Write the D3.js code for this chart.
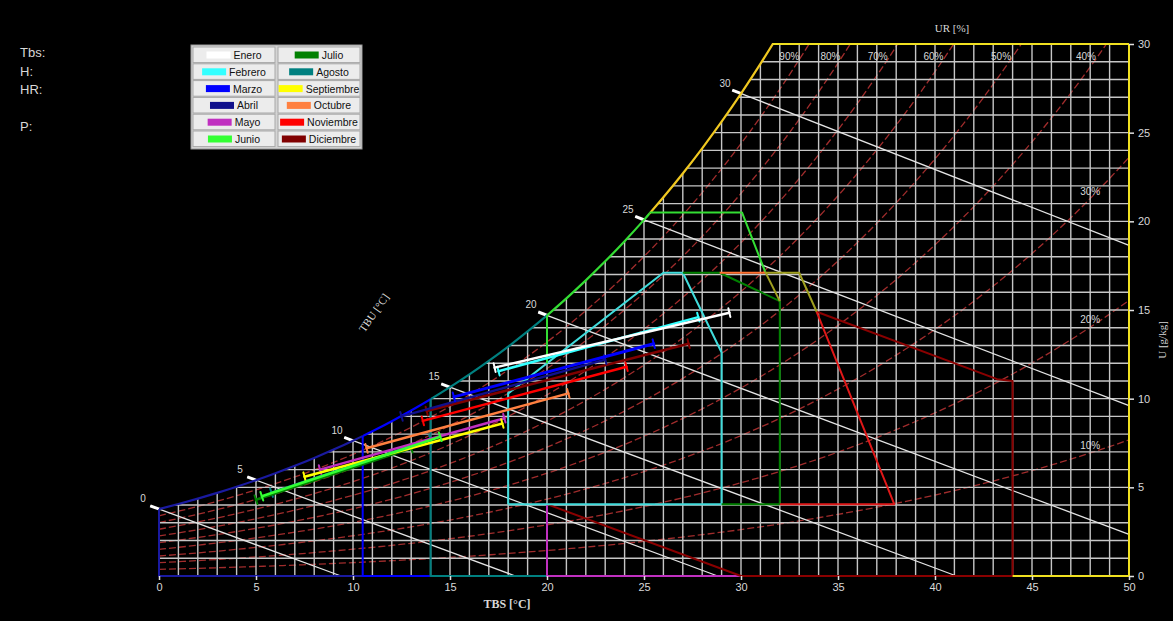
<!DOCTYPE html>
<html>
<head>
<meta charset="utf-8">
<script src="https://cdn.jsdelivr.net/npm/d3@7"></script>
<style>
  body { margin: 0; background: #000; }
  svg { display: block; }
</style>
</head>
<body>
<script>
// presión de vapor de saturación (kPa), una por cada °C de 0 a 50
const pvs = [0.6112, 0.6571, 0.7060, 0.7581, 0.8135, 0.8725, 0.9353, 1.0020, 1.0729, 1.1481,
  1.2280, 1.3127, 1.4026, 1.4979, 1.5987, 1.7055, 1.8185, 1.9380, 2.0643, 2.1978,
  2.3388, 2.4877, 2.6448, 2.8104, 2.9851, 3.1692, 3.3631, 3.5673, 3.7822, 4.0083,
  4.2460, 4.4959, 4.7585, 5.0343, 5.3239, 5.6278, 5.9466, 6.2810, 6.6315, 6.9987,
  7.3835, 7.7863, 8.2080, 8.6492, 9.1107, 9.5932, 10.0976, 10.6246, 11.1751, 11.7500, 12.3499];
const P_ATM = 101.325;

// humedad relativa y temperaturas de bulbo húmedo dibujadas
const hrNiveles = [0.1, 0.2, 0.3, 0.4, 0.5, 0.6, 0.7, 0.8, 0.9];
const hrEtiquetas = ['10%', '20%', '30%', '40%', '50%', '60%', '70%', '80%', '90%'];
const tbuNiveles = [0, 5, 10, 15, 20, 25, 30];

// meses (línea de mínima a máxima: TBS °C, U g/kg)
const meses = ['Enero', 'Febrero', 'Marzo', 'Abril', 'Mayo', 'Junio',
  'Julio', 'Agosto', 'Septiembre', 'Octubre', 'Noviembre', 'Diciembre'];
const colores = ['#ffffff', '#33ffff', '#0000ff', '#10108c', '#c030c0', '#33ff33',
  '#008000', '#008080', '#ffff00', '#ff8040', '#ff0000', '#800000'];
const tMin = [17.3, 17.5, 15.2, 12.5, 8.3, 5.3, 5.0, 5.8, 7.5, 10.7, 13.6, 13.8];
const wMin = [11.75, 11.55, 10.1, 9.0, 6.0, 4.5, 4.3, 4.7, 5.6, 7.2, 8.75, 9.3];
const tMax = [29.4, 27.8, 25.5, 23.0, 17.8, 14.5, 13.0, 14.0, 17.7, 21.1, 24.1, 27.3];
const wMax = [14.85, 14.6, 13.1, 12.2, 8.9, 7.85, 7.2, 7.7, 8.6, 10.3, 11.8, 13.1];
const ordenDibujo = [11, 3, 10, 2, 9, 7, 6, 4, 8, 5, 1, 0];

// contornos de zonas [TBS, U]
const zonaFebrero = [[18, 4.05], [18, 10.3], [26, 17.1], [27, 17.1], [29, 12.6], [29, 4.05], [18, 4.05]];
const zonaJulio = [[27, 17.1], [28.9, 17.1], [32, 15.5], [32, 4.05], [29, 4.05]];
const zonaJunio = [[20, 12.0], [20, 14.7]];
const zonaJunioSup = [[25.3, 20.5], [30.05, 20.5], [31.25, 17.15]];
const zonaOctubre = [[28.9, 17.1], [31.25, 17.1]];
const zonaOlivo = [[31.25, 17.1], [33.0, 17.1], [33.9, 14.9]];
const zonaOlivo2 = [[31.25, 17.15], [32, 15.5]];
const zonaNoviembre = [[33.9, 14.9], [37.9, 4.05], [32, 4.05]];
const zonaDiciembre = [[20, 4.05], [30, 0], [44, 0], [44, 11.0], [43.2, 11.1], [33.9, 14.9]];
const zonaMayo = [[30, 0], [20, 0], [20, 4.05]];
const zonaAbril = [[10.5, 0], [0, 0], [0, 3.77]];
const zonaMarzo = [[14, 0], [10.5, 0], [10.5, 7.9]];
const zonaAgosto = [[20, 0], [14, 0], [14, 9.97]];
const zonaSeptiembre = [[44, 0], [50, 0], [50, 30]];
// tramos de la curva de saturación [desde, hasta, color]
const tramosSat = [[0, 10.5, '#1a1aa0'], [10.5, 14, '#0000ff'], [14, 20, '#008080'],
  [20, 25.3, '#33dd33'], [25.3, 33, '#f0c820']];

const ticksX = [0, 5, 10, 15, 20, 25, 30, 35, 40, 45, 50];
const ticksY = [0, 5, 10, 15, 20, 25, 30];

const ws = pvs.map(p => 622 * p / (P_ATM - p));

const svg = d3.select('body').append('svg')
  .attr('width', 1173).attr('height', 621)
  .style('background', '#000');

const x = d3.scaleLinear().domain([0, 50]).range([159, 1129]);
const y = d3.scaleLinear().domain([0, 30]).range([576, 44]);

const defs = svg.append('defs');
defs.append('clipPath').attr('id', 'area').append('rect')
  .attr('x', x(0) - 4).attr('y', y(30))
  .attr('width', x(50) - x(0) + 8).attr('height', y(0) - y(30) + 4);

const linea = d3.line().x(d => x(d[0])).y(d => y(d[1]));
const curva = d3.line().x(d => x(d[0])).y(d => y(d[1])).curve(d3.curveMonotoneX);
const puntosSat = ws.slice(0, 34).map((w, t) => [t, w]);

// región bajo la curva de saturación (recorte de la cuadrícula)
defs.append('clipPath').attr('id', 'bajoSat').append('path')
  .attr('d', d3.area().x(d => x(d[0])).y0(y(0))
    .y1(d => Math.max(y(30), y(d[1]))).curve(d3.curveMonotoneX)(
      puntosSat.concat([[50, 30]])));

// curvas de humedad relativa
const gHr = svg.append('g').attr('clip-path', 'url(#area)');
hrNiveles.forEach(hr => {
  const pts = pvs.map((p, t) => [t, 622 * hr * p / (P_ATM - hr * p)]);
  gHr.append('path').attr('d', curva(pts))
    .attr('fill', 'none').attr('stroke', '#a02c2c')
    .attr('stroke-width', 1.3).attr('stroke-dasharray', '7,3');
});

// cuadrícula bajo la curva de saturación
const grid = svg.append('g').attr('clip-path', 'url(#bajoSat)')
  .attr('stroke', '#c6c6c6').attr('stroke-width', 1.4);
ws.forEach((w, t) => {
  grid.append('line').attr('x1', x(t)).attr('x2', x(t)).attr('y1', y(0)).attr('y2', y(30));
});
d3.range(0, 31).forEach(w => {
  grid.append('line').attr('x1', x(0)).attr('x2', x(50)).attr('y1', y(w)).attr('y2', y(w));
});

// etiquetas de HR
function cruce(hr, wObj) {
  for (let t = 1; t < pvs.length; t++) {
    const w1 = 622 * hr * pvs[t] / (P_ATM - hr * pvs[t]);
    const w0 = 622 * hr * pvs[t - 1] / (P_ATM - hr * pvs[t - 1]);
    if (w1 >= wObj) return t - 1 + (wObj - w0) / (w1 - w0);
  }
  return 50;
}
const gEtq = svg.append('g').attr('font-family', 'Liberation Sans, Arial, sans-serif')
  .attr('font-size', 10).attr('fill', '#d8d8d8').attr('text-anchor', 'middle');
hrNiveles.forEach((hr, i) => {
  if (hr >= 0.4) {
    gEtq.append('text').attr('x', x(cruce(hr, 29.4)) - 13).attr('y', 60).text(hrEtiquetas[i]);
  } else {
    const w48 = 622 * hr * pvs[48] / (P_ATM - hr * pvs[48]);
    gEtq.append('text').attr('x', x(48)).attr('y', y(w48) - 4).text(hrEtiquetas[i]);
  }
});

// líneas de bulbo húmedo
function wBulbo(t, tw) {
  const wsw = ws[tw] / 1000;
  return 1000 * ((2501 - 2.326 * tw) * wsw - 1.006 * (t - tw)) / (2501 + 1.86 * t - 4.186 * tw);
}
const gTbu = svg.append('g');
tbuNiveles.forEach(tw => {
  let tFin = tw + (2501 - 2.326 * tw) * ws[tw] / 1000 / 1.006;
  if (tFin > 50) tFin = 50;
  const t0 = tw - 0.45;
  gTbu.append('path').attr('d', linea([[t0, wBulbo(t0, tw)], [tFin, Math.max(0, wBulbo(tFin, tw))]]))
    .attr('stroke', '#e4e4e4').attr('stroke-width', 1.3).attr('fill', 'none');
  gTbu.append('path').attr('d', linea([[t0, wBulbo(t0, tw)], [tw + 0.05, wBulbo(tw + 0.05, tw)]]))
    .attr('stroke', '#ffffff').attr('stroke-width', 3).attr('fill', 'none');
  gTbu.append('text').attr('x', x(tw) - 16).attr('y', y(ws[tw]) - 7)
    .attr('text-anchor', 'middle').attr('font-size', 10)
    .attr('font-family', 'Liberation Sans, Arial, sans-serif')
    .attr('fill', '#d8d8d8').text(tw);
});

// contornos de zonas
const gZona = svg.append('g').attr('fill', 'none').attr('stroke-width', 2)
  .attr('stroke-linejoin', 'round');
tramosSat.forEach((tr, i) => {
  const id = 'sat' + i;
  defs.append('clipPath').attr('id', id).append('rect')
    .attr('x', x(tr[0])).attr('y', y(30) - 1)
    .attr('width', x(tr[1]) - x(tr[0])).attr('height', y(0) - y(30) + 2);
  gZona.append('path').attr('clip-path', 'url(#' + id + ')')
    .attr('d', curva(puntosSat))
    .attr('stroke', tr[2]).attr('stroke-width', 2.2);
});
const tTope = cruce(1, 30);
const zonas = [
  [zonaAbril, '#1a1aa0'], [zonaMarzo, '#0000ff'], [zonaAgosto, '#008080'],
  [zonaMayo, '#c030c0'], [zonaDiciembre, '#8a0000'], [zonaSeptiembre, '#f0e020'],
  [[[tTope, 30], [50, 30]], '#f0e020'],
  [zonaFebrero, '#40dcdc'], [zonaJulio, '#008000'], [zonaJunio, '#33dd33'],
  [zonaJunioSup, '#33dd33'], [zonaOctubre, '#ff7030'], [zonaOlivo, '#a0a020'],
  [zonaOlivo2, '#a0a020'], [zonaNoviembre, '#e01818']
];
zonas.forEach(z => {
  gZona.append('path').attr('d', linea(z[0])).attr('stroke', z[1]);
});

// líneas mensuales con remates
const gMes = svg.append('g');
ordenDibujo.forEach(i => {
  const x1 = x(tMin[i]), y1 = y(wMin[i]), x2 = x(tMax[i]), y2 = y(wMax[i]);
  const L = Math.hypot(x2 - x1, y2 - y1);
  const nx = -(y2 - y1) / L * 4.5, ny = (x2 - x1) / L * 4.5;
  const g = gMes.append('g').attr('stroke', colores[i]).attr('stroke-linecap', 'round');
  g.append('line').attr('x1', x1).attr('y1', y1).attr('x2', x2).attr('y2', y2)
    .attr('stroke-width', i === 2 ? 3 : 2.5);
  [[x1, y1], [x2, y2]].forEach(p => {
    g.append('line').attr('x1', p[0] - nx).attr('y1', p[1] - ny)
      .attr('x2', p[0] + nx).attr('y2', p[1] + ny).attr('stroke-width', 2);
  });
});

// ejes
const ejeX = svg.append('g').attr('transform', `translate(0,${y(0)})`)
  .call(d3.axisBottom(x).tickValues(ticksX).tickSize(4).tickPadding(3).tickSizeOuter(0));
const ejeY = svg.append('g').attr('transform', `translate(${x(50)},0)`)
  .call(d3.axisRight(y).tickValues(ticksY).tickSize(5).tickPadding(4).tickSizeOuter(0));
[ejeX, ejeY].forEach(e => {
  e.select('.domain').remove();
  e.selectAll('line').attr('stroke', '#e0e0e0').attr('stroke-width', 1.5);
  e.selectAll('text').attr('fill', '#d8d8d8').attr('font-size', 11)
    .attr('font-family', 'Liberation Sans, Arial, sans-serif');
});

const serif = 'Liberation Serif, Times New Roman, serif';
svg.append('text').attr('x', 507).attr('y', 608).attr('text-anchor', 'middle')
  .attr('font-family', serif).attr('font-size', 12).attr('font-weight', 'bold')
  .attr('fill', '#d8d8d8').text('TBS [°C]');
svg.append('text').attr('x', 952).attr('y', 32).attr('text-anchor', 'middle')
  .attr('font-family', serif).attr('font-size', 11).attr('fill', '#d8d8d8').text('UR [%]');
svg.append('text').attr('transform', 'translate(1166,340) rotate(-90)').attr('text-anchor', 'middle')
  .attr('font-family', serif).attr('font-size', 11).attr('fill', '#d8d8d8').text('U [g/kg]');
svg.append('text').attr('transform', 'translate(377,315) rotate(-55)').attr('text-anchor', 'middle')
  .attr('font-family', serif).attr('font-size', 11).attr('fill', '#d8d8d8').text('TBU [°C]');

// datos del punto (vacíos)
const info = ['Tbs:', 'H:', 'HR:', '', 'P:'];
info.forEach((t, i) => {
  svg.append('text').attr('x', 20).attr('y', 57 + i * 18.5)
    .attr('font-family', 'Liberation Sans, Arial, sans-serif').attr('font-size', 13)
    .attr('fill', '#d8d8d8').text(t);
});

// leyenda
const leg = svg.append('g');
leg.append('rect').attr('x', 191).attr('y', 45).attr('width', 171).attr('height', 104)
  .attr('fill', '#d4d4d4').attr('stroke', '#9a9a9a');
meses.forEach((m, i) => {
  const col = i < 6 ? 0 : 1, fila = i % 6;
  const cx = 193 + col * 85, cy = 47 + fila * 16.8;
  leg.append('rect').attr('x', cx).attr('y', cy).attr('width', 82).attr('height', 15.6)
    .attr('fill', '#ececec').attr('stroke', '#a8a8a8');
  const txt = leg.append('text').attr('y', cy + 12).attr('font-size', 10.5)
    .attr('font-family', 'Liberation Sans, Arial, sans-serif').attr('fill', '#111').text(m);
  const tw = txt.node().getComputedTextLength();
  const x0 = cx + 41 - (24 + 3 + tw) / 2;
  leg.append('rect').attr('x', x0).attr('y', cy + 4.5).attr('width', 24).attr('height', 7)
    .attr('fill', colores[i]);
  txt.attr('x', x0 + 27);
});
</script>
</body>
</html>
